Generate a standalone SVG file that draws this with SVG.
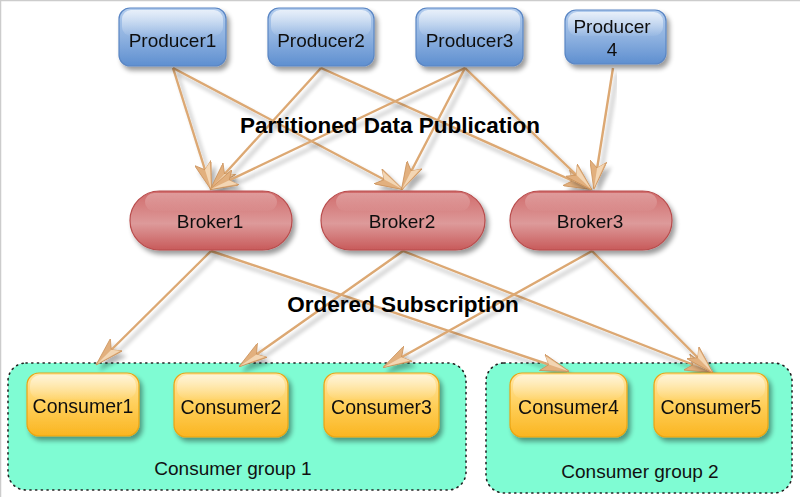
<svg xmlns="http://www.w3.org/2000/svg" width="800" height="497" viewBox="0 0 800 497">
<defs>
<style>
.lbl{font-family:"Liberation Sans",Arial,sans-serif;font-size:19px;fill:#111;text-anchor:middle}
.clbl{font-family:"Liberation Sans",Arial,sans-serif;font-size:19.5px;fill:#111;text-anchor:middle}
.title{font-family:"Liberation Sans",Arial,sans-serif;font-size:22.5px;font-weight:bold;fill:#000;text-anchor:middle}
.grp{font-family:"Liberation Sans",Arial,sans-serif;font-size:19px;fill:#111;text-anchor:middle}
.conn line{stroke:#dca873;stroke-width:2.4;marker-end:url(#ah);filter:url(#lsh)}
.group{fill:#7ffcd3;stroke:#222;stroke-width:1.6;stroke-dasharray:1.2 4.5;stroke-linecap:round}
</style>
<linearGradient id="gP" x1="0" y1="0" x2="0" y2="1">
<stop offset="0" stop-color="#b3cdee"/><stop offset="0.5" stop-color="#8fb2e0"/><stop offset="1" stop-color="#5e8fd0"/>
</linearGradient>
<linearGradient id="gB" x1="0" y1="0" x2="0" y2="1">
<stop offset="0" stop-color="#d06a6a"/><stop offset="0.55" stop-color="#dd9a9a"/><stop offset="1" stop-color="#c85a5a"/>
</linearGradient>
<linearGradient id="gC" x1="0" y1="0" x2="0" y2="1">
<stop offset="0" stop-color="#ffe7a8"/><stop offset="0.5" stop-color="#ffcf5a"/><stop offset="1" stop-color="#fab520"/>
</linearGradient>
<linearGradient id="gH" x1="0" y1="0" x2="0" y2="1">
<stop offset="0" stop-color="#fff" stop-opacity="0.7"/><stop offset="1" stop-color="#fff" stop-opacity="0.05"/>
</linearGradient>
<filter id="sh" x="-10%" y="-10%" width="130%" height="140%">
<feGaussianBlur in="SourceAlpha" stdDeviation="2.5"/><feOffset dx="3" dy="4" result="b"/>
<feComponentTransfer><feFuncA type="linear" slope="0.4"/></feComponentTransfer>
<feMerge><feMergeNode/><feMergeNode in="SourceGraphic"/></feMerge>
</filter>
<filter id="lsh" x="-20%" y="-20%" width="140%" height="140%">
<feGaussianBlur in="SourceAlpha" stdDeviation="2"/><feOffset dx="4" dy="5" result="b"/>
<feComponentTransfer><feFuncA type="linear" slope="0.3"/></feComponentTransfer>
<feMerge><feMergeNode/><feMergeNode in="SourceGraphic"/></feMerge>
</filter>
<marker id="ah" viewBox="0 0 20 12" refX="19" refY="6" markerWidth="12" markerHeight="7.2" orient="auto" markerUnits="strokeWidth">
<path d="M0,0 L20,6 L0,12 L5,6 Z" fill="#e2b07e" stroke="#c98e55" stroke-width="0.5"/>
<path d="M1,1.2 L19,6 L5,6 Z" fill="#f3d6b4"/>
</marker>
</defs>
<rect width="800" height="497" fill="#fff"/>
<path d="M0.5,497 V0.5 H800" fill="none" stroke="#cccccc" stroke-width="1.5"/>

<g id="group1">
<rect class="group" x="8" y="363" width="458" height="127" rx="18"/>
<text class="grp" x="233" y="475">Consumer group 1</text>
</g>
<g id="group2">
<rect class="group" x="486" y="363" width="306" height="130" rx="18"/>
<text class="grp" x="640" y="478">Consumer group 2</text>
</g>

<g class="conn" id="connectors">
<line x1="173" y1="68" x2="211" y2="189"/>
<line x1="173" y1="68" x2="402" y2="189"/>
<line x1="321" y1="68" x2="211" y2="189"/>
<line x1="321" y1="68" x2="591" y2="189"/>
<line x1="465" y1="68" x2="211" y2="189"/>
<line x1="465" y1="68" x2="402" y2="189"/>
<line x1="465" y1="68" x2="591" y2="189"/>
<line x1="613" y1="68" x2="594" y2="188"/>
<line x1="211" y1="251" x2="97" y2="364"/>
<line x1="211" y1="251" x2="568" y2="371"/>
<line x1="403" y1="251" x2="240" y2="366"/>
<line x1="403" y1="251" x2="712" y2="372"/>
<line x1="592" y1="251" x2="384" y2="367"/>
<line x1="592" y1="251" x2="712" y2="372"/>
</g>

<text class="title" x="390" y="133">Partitioned Data Publication</text>
<text class="title" x="403" y="312">Ordered Subscription</text>

<g id="producer1" filter="url(#sh)">
<rect x="119" y="8" width="107" height="58" rx="11" fill="url(#gP)" stroke="#5a86c4" stroke-width="1.2"/>
<rect x="122" y="10" width="101" height="26" rx="9" fill="url(#gH)"/>
<text class="lbl" x="172.5" y="47">Producer1</text>
</g>
<g id="producer2" filter="url(#sh)">
<rect x="268" y="8" width="106" height="58" rx="11" fill="url(#gP)" stroke="#5a86c4" stroke-width="1.2"/>
<rect x="271" y="10" width="100" height="26" rx="9" fill="url(#gH)"/>
<text class="lbl" x="321" y="47">Producer2</text>
</g>
<g id="producer3" filter="url(#sh)">
<rect x="416" y="8" width="107" height="58" rx="11" fill="url(#gP)" stroke="#5a86c4" stroke-width="1.2"/>
<rect x="419" y="10" width="101" height="26" rx="9" fill="url(#gH)"/>
<text class="lbl" x="469.5" y="47">Producer3</text>
</g>
<g id="producer4" filter="url(#sh)">
<rect x="565" y="10" width="101" height="54" rx="11" fill="url(#gP)" stroke="#5a86c4" stroke-width="1.2"/>
<rect x="568" y="12" width="95" height="24" rx="9" fill="url(#gH)"/>
<text class="lbl" x="612" y="33">Producer</text>
<text class="lbl" x="612" y="56">4</text>
</g>

<g id="broker1" filter="url(#sh)">
<rect x="130" y="191" width="162" height="59" rx="29.5" fill="url(#gB)" stroke="#b84c4c" stroke-width="1.2"/>
<rect x="145" y="193" width="132" height="18" rx="9" fill="url(#gH)" opacity="0.45"/>
<text class="lbl" x="210" y="228">Broker1</text>
</g>
<g id="broker2" filter="url(#sh)">
<rect x="321" y="191" width="164" height="59" rx="29.5" fill="url(#gB)" stroke="#b84c4c" stroke-width="1.2"/>
<rect x="336" y="193" width="134" height="18" rx="9" fill="url(#gH)" opacity="0.45"/>
<text class="lbl" x="402" y="228">Broker2</text>
</g>
<g id="broker3" filter="url(#sh)">
<rect x="510" y="191" width="162" height="59" rx="29.5" fill="url(#gB)" stroke="#b84c4c" stroke-width="1.2"/>
<rect x="525" y="193" width="132" height="18" rx="9" fill="url(#gH)" opacity="0.45"/>
<text class="lbl" x="590" y="228">Broker3</text>
</g>

<g id="consumer1" filter="url(#sh)">
<rect x="27" y="373" width="112" height="63" rx="12" fill="url(#gC)" stroke="#eaa412" stroke-width="1.2"/>
<rect x="30" y="375" width="106" height="24" rx="10" fill="url(#gH)" opacity="0.8"/>
<text class="clbl" x="83" y="413">Consumer1</text>
</g>
<g id="consumer2" filter="url(#sh)">
<rect x="174" y="373" width="114" height="64" rx="12" fill="url(#gC)" stroke="#eaa412" stroke-width="1.2"/>
<rect x="177" y="375" width="108" height="24" rx="10" fill="url(#gH)" opacity="0.8"/>
<text class="clbl" x="231" y="414">Consumer2</text>
</g>
<g id="consumer3" filter="url(#sh)">
<rect x="324" y="373" width="115" height="64" rx="12" fill="url(#gC)" stroke="#eaa412" stroke-width="1.2"/>
<rect x="327" y="375" width="109" height="24" rx="10" fill="url(#gH)" opacity="0.8"/>
<text class="clbl" x="381.5" y="414">Consumer3</text>
</g>
<g id="consumer4" filter="url(#sh)">
<rect x="510" y="373" width="117" height="64" rx="12" fill="url(#gC)" stroke="#eaa412" stroke-width="1.2"/>
<rect x="513" y="375" width="111" height="24" rx="10" fill="url(#gH)" opacity="0.8"/>
<text class="clbl" x="568.5" y="414">Consumer4</text>
</g>
<g id="consumer5" filter="url(#sh)">
<rect x="654" y="373" width="114" height="64" rx="12" fill="url(#gC)" stroke="#eaa412" stroke-width="1.2"/>
<rect x="657" y="375" width="108" height="24" rx="10" fill="url(#gH)" opacity="0.8"/>
<text class="clbl" x="711" y="414">Consumer5</text>
</g>
</svg>
